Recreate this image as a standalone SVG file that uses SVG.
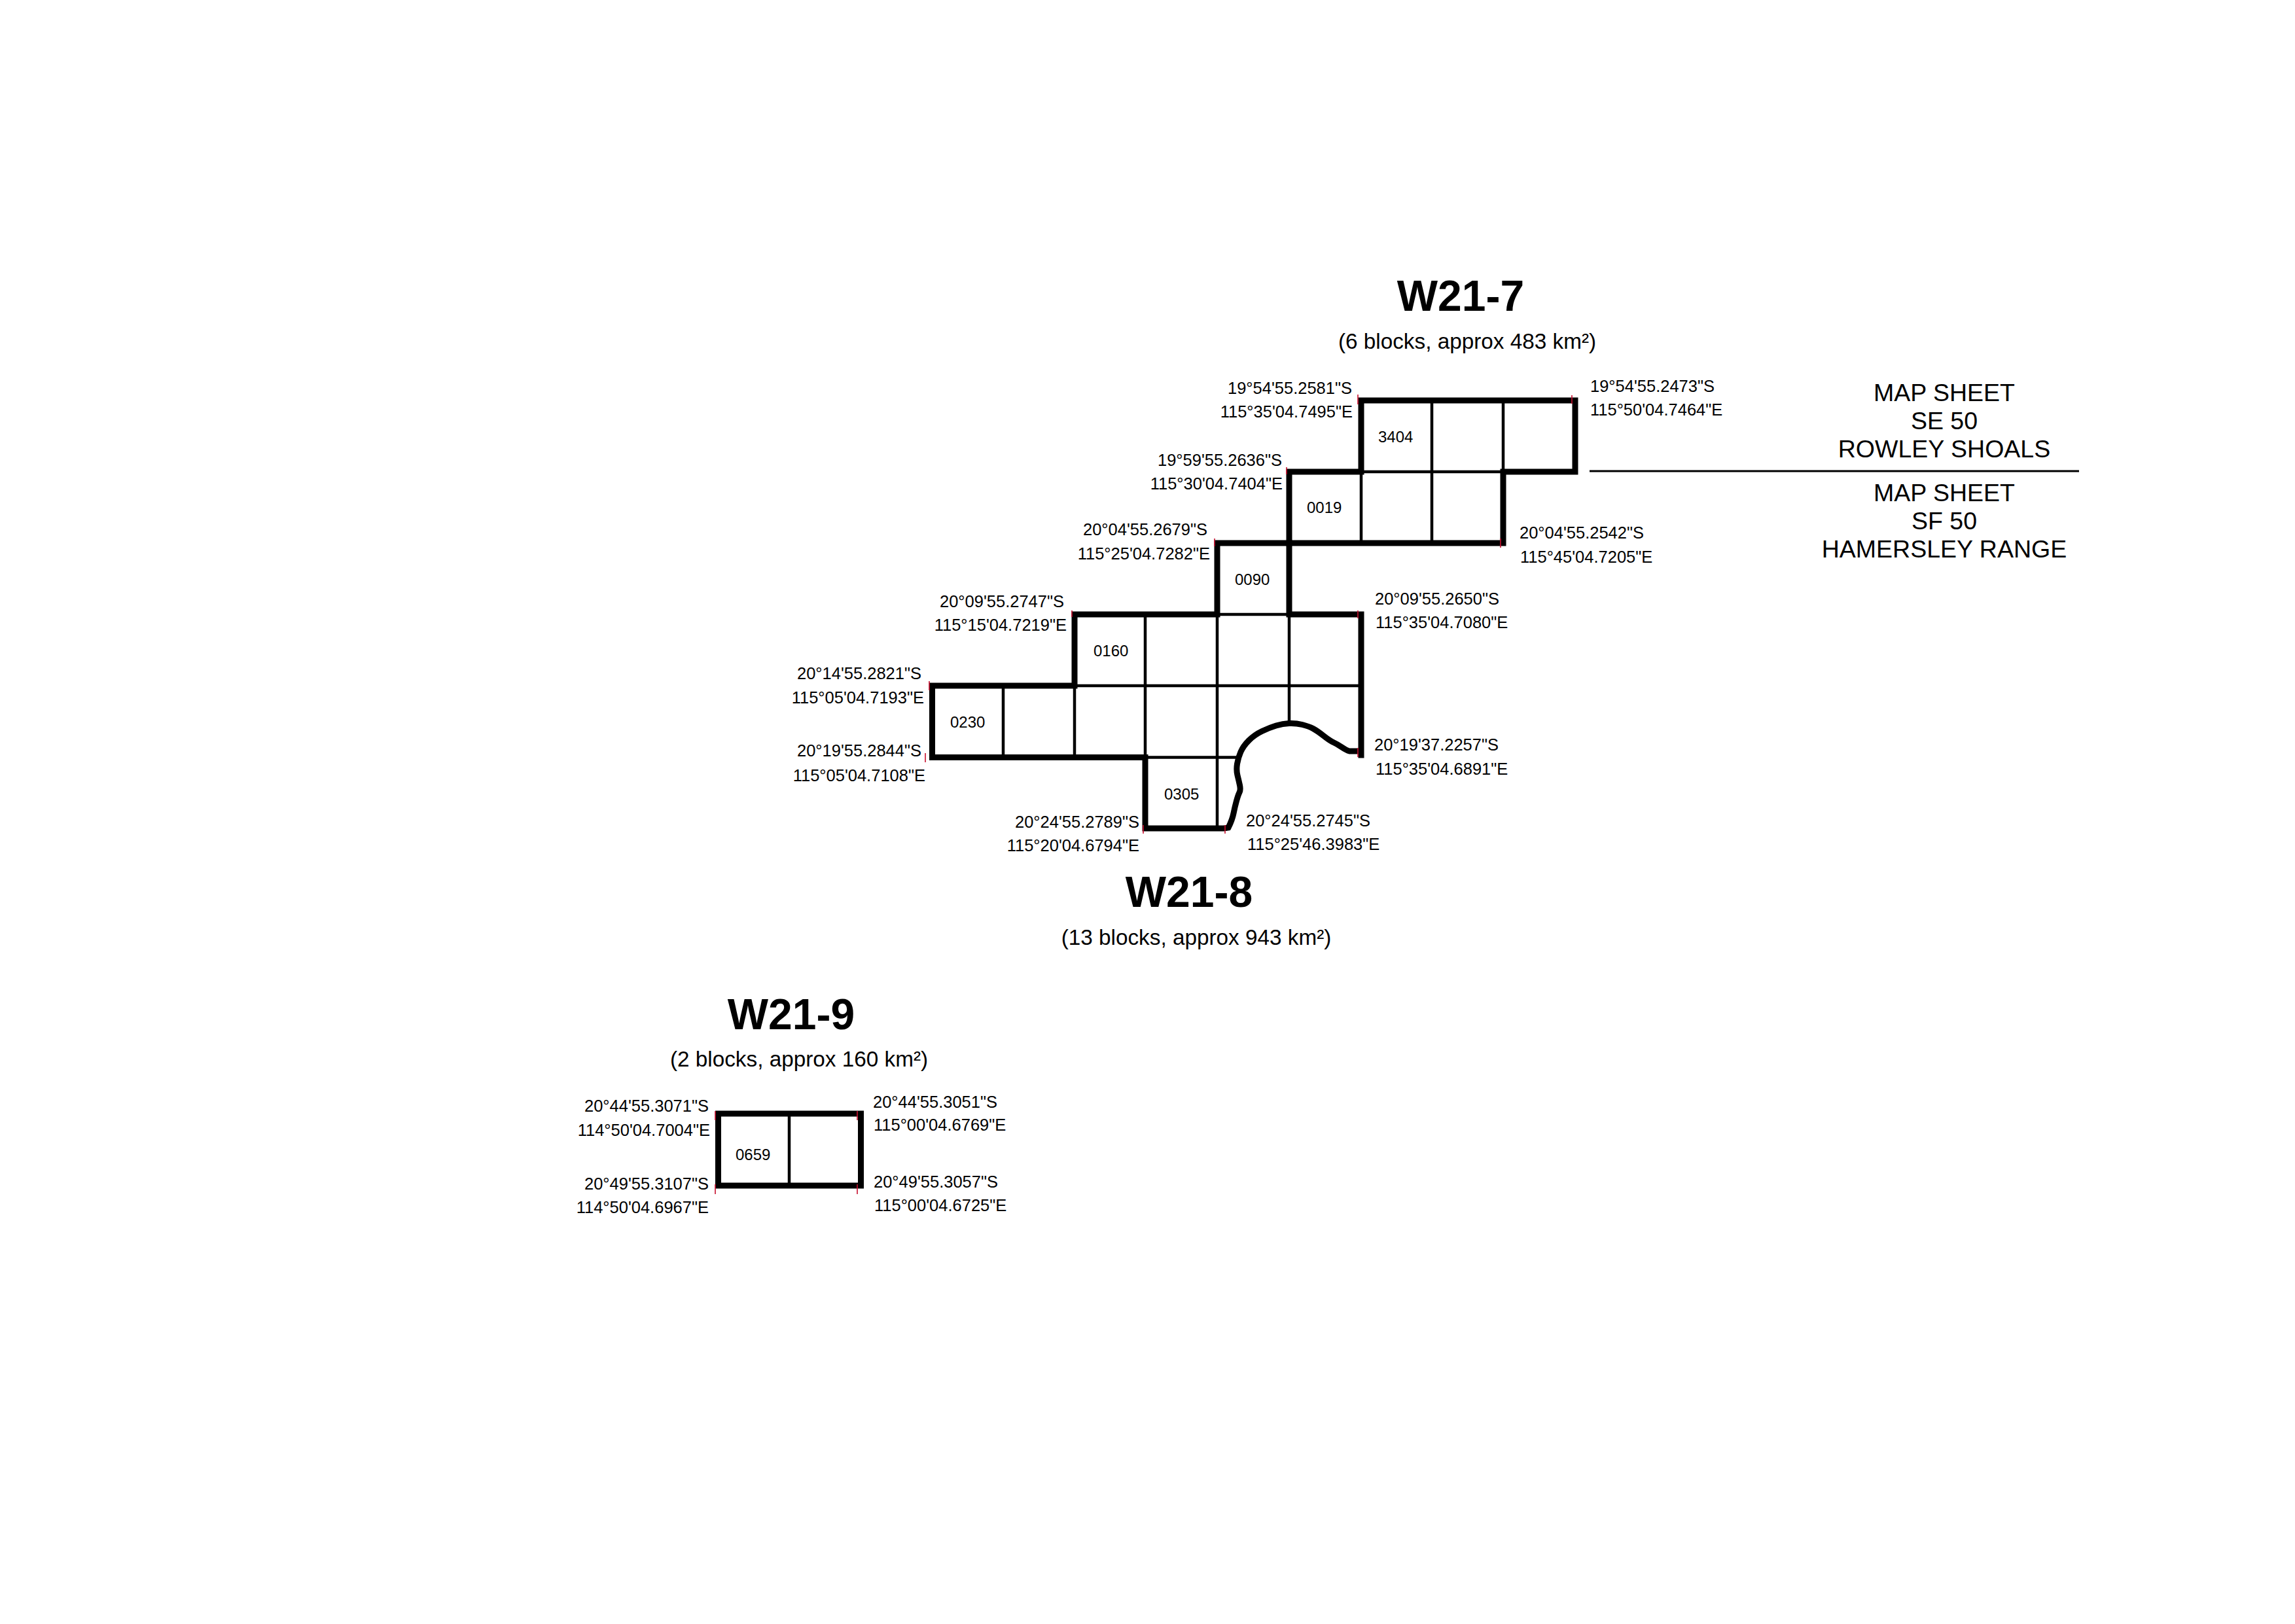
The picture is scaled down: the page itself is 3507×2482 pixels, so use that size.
<svg xmlns="http://www.w3.org/2000/svg" width="3507" height="2482" viewBox="0 0 3507 2482">
<style>
text{font-family:"Liberation Sans",Arial,sans-serif;fill:#000}
.title{font-size:66px;font-weight:700;text-anchor:middle}
.sub{font-size:33.3px;text-anchor:middle}
.c{font-size:25.5px}
.e{text-anchor:end}
.b{font-size:24px}
.m{font-size:37.5px;text-anchor:middle}
.thick{fill:none;stroke:#000;stroke-width:9;stroke-linejoin:miter;stroke-linecap:square}
.thin{fill:none;stroke:#000;stroke-width:4.5}
.rule{fill:none;stroke:#000;stroke-width:3}
.tick{fill:none;stroke:#c8102e;stroke-width:1.6}
</style>
<rect width="3507" height="2482" fill="#fff"/>
<g id="connectors">
<path class="thin" d="M2188 612V830M2297 612V721M2080 721V830M2080 721H2297"/>
<path class="thin" d="M1860 939H1970M1642 1048H2080M1533 1048V1157M1642 1048V1157M1750 939V1157M1860 939V1266M1970 939V1105M1750 1157.5H1892"/>
<path class="thin" d="M1206 1702V1812"/>
<path class="rule" d="M2429 720H3177"/>
</g>
<g id="W21-7">
<path class="thick" d="M2080 612H2407V721H2297V830H1970V721H2080Z"/>
<text class="title" x="2232" y="475">W21-7</text>
<text class="sub" x="2242" y="533">(6 blocks, approx 483 km²)</text>
<text class="b" x="2106" y="676">3404</text>
<text class="b" x="1997" y="784">0019</text>
<text class="c e" x="2066" y="602">19°54'55.2581"S</text>
<text class="c e" x="2067" y="638">115°35'04.7495"E</text>
<text class="c" x="2430" y="599">19°54'55.2473"S</text>
<text class="c" x="2430" y="635">115°50'04.7464"E</text>
<text class="c e" x="1959" y="712">19°59'55.2636"S</text>
<text class="c e" x="1960" y="748">115°30'04.7404"E</text>
<text class="c" x="2322" y="823">20°04'55.2542"S</text>
<text class="c" x="2323" y="860">115°45'04.7205"E</text>
</g>
<g id="W21-8">
<path class="thick" d="M1860 830H1970V939H2080V1154M2080 1148H2062Q2058 1147 2050.5 1142Q2043 1137 2037.5 1134.5Q2032 1132 2022.5 1124.5Q2013 1117 2006.5 1113.5Q2000 1110 1990 1107.5Q1980 1105 1970 1105.5Q1960 1106 1950 1109Q1940 1112 1928.5 1117.5Q1917 1123 1908.5 1131.5Q1900 1140 1896 1149Q1892 1158 1890.5 1167.5Q1889 1177 1891 1185Q1893 1193 1894.5 1200Q1896 1207 1894 1211Q1892 1215 1889.5 1224Q1887 1233 1885 1243Q1883 1253 1877 1265L1870 1266H1750V1157.5H1424.5V1048H1642V939H1860V830"/>
<text class="title" x="1817" y="1386">W21-8</text>
<text class="sub" x="1828" y="1444">(13 blocks, approx 943 km²)</text>
<text class="b" x="1887" y="894">0090</text>
<text class="b" x="1671" y="1003">0160</text>
<text class="b" x="1452" y="1112">0230</text>
<text class="b" x="1779" y="1222">0305</text>
<text class="c e" x="1845" y="818">20°04'55.2679"S</text>
<text class="c e" x="1849" y="855">115°25'04.7282"E</text>
<text class="c e" x="1626" y="928">20°09'55.2747"S</text>
<text class="c e" x="1630" y="964">115°15'04.7219"E</text>
<text class="c e" x="1408" y="1038">20°14'55.2821"S</text>
<text class="c e" x="1412" y="1075">115°05'04.7193"E</text>
<text class="c e" x="1408" y="1156">20°19'55.2844"S</text>
<text class="c e" x="1414" y="1194">115°05'04.7108"E</text>
<text class="c e" x="1741" y="1265">20°24'55.2789"S</text>
<text class="c e" x="1741" y="1301">115°20'04.6794"E</text>
<text class="c" x="1904" y="1263">20°24'55.2745"S</text>
<text class="c" x="1906" y="1299">115°25'46.3983"E</text>
<text class="c" x="2100" y="1147">20°19'37.2257"S</text>
<text class="c" x="2102" y="1184">115°35'04.6891"E</text>
<text class="c" x="2101" y="924">20°09'55.2650"S</text>
<text class="c" x="2102" y="960">115°35'04.7080"E</text>
</g>
<g id="W21-9">
<path class="thick" d="M1097.5 1702H1315.5V1812H1097.5Z"/>
<text class="title" x="1209" y="1573">W21-9</text>
<text class="sub" x="1221" y="1630">(2 blocks, approx 160 km²)</text>
<text class="b" x="1124" y="1773">0659</text>
<text class="c e" x="1083" y="1699">20°44'55.3071"S</text>
<text class="c e" x="1085" y="1736">114°50'04.7004"E</text>
<text class="c e" x="1083" y="1818">20°49'55.3107"S</text>
<text class="c e" x="1083" y="1854">114°50'04.6967"E</text>
<text class="c" x="1334" y="1693">20°44'55.3051"S</text>
<text class="c" x="1335" y="1728">115°00'04.6769"E</text>
<text class="c" x="1335" y="1815">20°49'55.3057"S</text>
<text class="c" x="1336" y="1851">115°00'04.6725"E</text>
</g>
<g id="map-sheets">
<text class="m" x="2971" y="613">MAP SHEET</text>
<text class="m" x="2971" y="656">SE 50</text>
<text class="m" x="2971" y="699">ROWLEY SHOALS</text>
<text class="m" x="2971" y="766">MAP SHEET</text>
<text class="m" x="2971" y="809">SF 50</text>
<text class="m" x="2971" y="852">HAMERSLEY RANGE</text>
</g>
<g id="corner-ticks">
<path class="tick" d="M2075 603V618M2402 604V617M1966 714V725M1856 823V835M2293 823V837M1638 933V943M1420 1041V1055M1414 1151V1165M2075 933V945M2075 1143V1157M1747 1261V1274M1872 1261V1274M1093 1698V1712M1310 1698V1712M1093 1810V1825M1310 1810V1825"/>
</g>
</svg>
